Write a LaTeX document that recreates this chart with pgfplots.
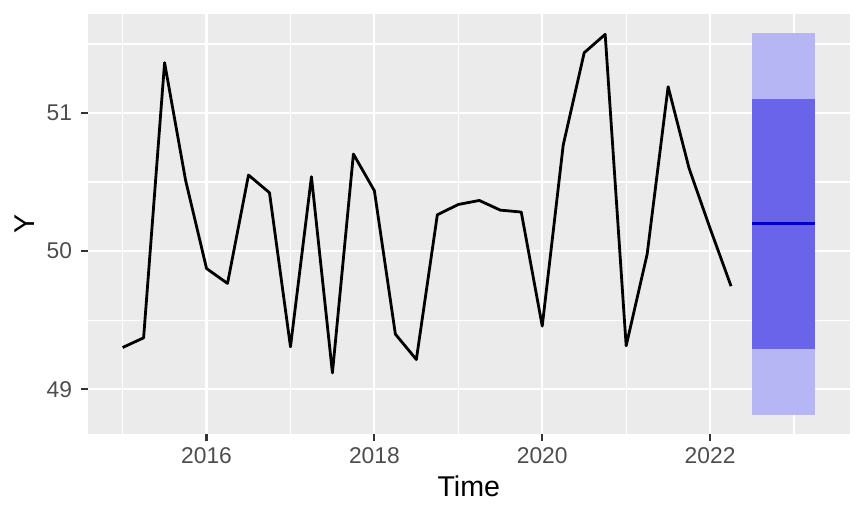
\documentclass[border=0pt]{standalone}
\usepackage{fontspec}
\setmainfont{Liberation Sans}
\usepackage{pgfplots}
\pgfplotsset{compat=1.18}
\definecolor{panelbg}{RGB}{235,235,235}
\definecolor{grey30}{RGB}{77,77,77}
\definecolor{grey20}{RGB}{51,51,51}
\definecolor{outerband}{RGB}{182,182,245}
\definecolor{innerband}{RGB}{106,100,235}
\definecolor{meanline}{RGB}{0,0,204}
\begin{document}
\begin{tikzpicture}
\useasboundingbox (0,0) rectangle (432pt,259pt);
\begin{axis}[
  at={(44pt,41.75pt)}, anchor=south west,
  scale only axis, width=380.8pt, height=210.15pt,
  xmin=2014.5875, xmax=2023.6625,
  ymin=48.672, ymax=51.716,
  axis background/.style={fill=panelbg},
  axis line style={draw=none},
  xtick={2016,2018,2020,2022},
  minor xtick={2015,2017,2019,2021,2023},
  ytick={49,50,51},
  minor ytick={48.5,49.5,50.5,51.5},
  grid=both,
  major grid style={white, line width=1.1pt},
  minor grid style={white, line width=0.6pt},
  tick pos=left, tick align=outside,
  major tick length=3.5pt, minor tick length=0pt,
  major tick style={grey20, line width=1.1pt},
  minor tick style={draw=none},
  /pgf/number format/assume math mode=true,
  /pgf/number format/1000 sep={},
  ticklabel style={font=\fontsize{11.4}{13}\selectfont, text=grey30, inner sep=0pt},
  xticklabel style={anchor=north, yshift=-2.9pt},
  yticklabel style={anchor=east, xshift=-4.3pt},
  xlabel={Time}, ylabel={Y},
  label style={font=\fontsize{14.3}{16}\selectfont, text=black, inner sep=0pt},
  xlabel style={at={([yshift=-31.1pt]axis description cs:0.5,0)}, anchor=base},
  ylabel style={at={([xshift=-26.6pt]axis description cs:0,0.5)}, anchor=base, rotate=0},
  clip=false,
]
\addplot[fill=outerband, draw=none] coordinates {(2022.5,48.81) (2023.25,48.81) (2023.25,51.578) (2022.5,51.578)} -- cycle;
\addplot[fill=innerband, draw=none] coordinates {(2022.5,49.29) (2023.25,49.29) (2023.25,51.10) (2022.5,51.10)} -- cycle;
\addplot[meanline, line width=1.4pt] coordinates {(2022.5,50.198) (2022.75,50.198) (2023,50.198) (2023.25,50.198)};
\addplot[black, line width=1.4pt, line join=round] coordinates {
(2015.00,49.302) (2015.25,49.372) (2015.50,51.365) (2015.75,50.514)
(2016.00,49.874) (2016.25,49.766) (2016.50,50.551) (2016.75,50.423)
(2017.00,49.307) (2017.25,50.539) (2017.50,49.118) (2017.75,50.703)
(2018.00,50.437) (2018.25,49.399) (2018.50,49.215) (2018.75,50.263)
(2019.00,50.338) (2019.25,50.367) (2019.50,50.297) (2019.75,50.283)
(2020.00,49.457) (2020.25,50.768) (2020.50,51.437) (2020.75,51.570)
(2021.00,49.314) (2021.25,49.978) (2021.50,51.191) (2021.75,50.599)
(2022.00,50.165) (2022.25,49.746)
};
\end{axis}
\end{tikzpicture}
\end{document}
